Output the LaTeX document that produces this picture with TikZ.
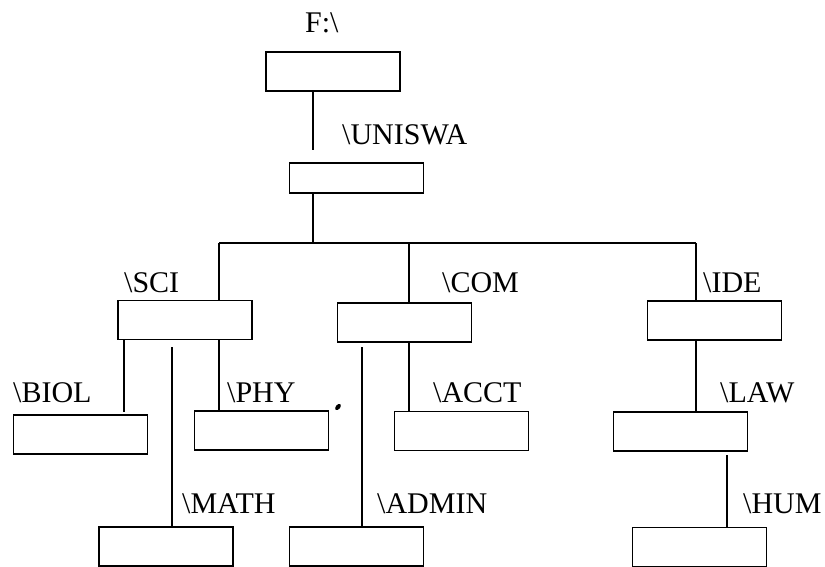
\documentclass[tikz,border=0pt]{standalone}
\usepackage{fontspec}
\setmainfont{Liberation Serif}
\tikzset{
  dirbox/.style={draw, line width=1.6pt, minimum width=134pt, minimum height=39pt, inner sep=0pt},
  dirlabel/.style={anchor=base west, inner sep=0pt, font=\fontsize{30}{35}\selectfont},
  link/.style={line width=1.3pt}
}
\begin{document}
\begin{tikzpicture}[x=1pt,y=-1pt]
\useasboundingbox (0,0) rectangle (825,567);
% directory boxes
\node [dirbox] (root) at (333,71.5) {};
\node [dirbox,minimum height=30pt] (uniswa) at (356.5,178) {};
\node [dirbox] (sci) at (185,320) {};
\node [dirbox] (com) at (404.5,322.5) {};
\node [dirbox] (ide) at (714.5,320.5) {};
\node [dirbox] (biol) at (80.5,434.5) {};
\node [dirbox] (phy) at (261.5,430.5) {};
\node [dirbox] (acct) at (461.5,431) {};
\node [dirbox] (law) at (680.5,431.5) {};
\node [dirbox] (math) at (166,546.5) {};
\node [dirbox] (admin) at (356.5,546.5) {};
\node [dirbox] (hum) at (699.5,547) {};
% names
\node [dirlabel] (lroot) at (305,33) {F:\textbackslash};
\node [dirlabel] (luniswa) at (342,145) {\textbackslash UNISWA};
\node [dirlabel] (lsci) at (124,292) {\textbackslash SCI};
\node [dirlabel] (lcom) at (442,292) {\textbackslash COM};
\node [dirlabel] (lide) at (703,292) {\textbackslash IDE};
\node [dirlabel] (lbiol) at (13,402) {\textbackslash BIOL};
\node [dirlabel] (lphy) at (227,402) {\textbackslash PHY};
\node [dirlabel] (lacct) at (433,402) {\textbackslash ACCT};
\node [dirlabel] (llaw) at (720,402) {\textbackslash LAW};
\node [dirlabel] (lmath) at (182,513) {\textbackslash MATH};
\node [dirlabel] (ladmin) at (377,513) {\textbackslash ADMIN};
\node [dirlabel] (lhum) at (743,513) {\textbackslash HUM};
% branch points
\coordinate (uniTop) at (313,150);
\coordinate (busU) at (313,243);
\coordinate (busL) at (219,243);
\coordinate (busC) at (409,243);
\coordinate (busR) at (696,243);
\coordinate (biolTop) at (124,412);
\coordinate (mathTop) at (172,347);
\coordinate (adminTop) at (362,347);
\coordinate (humTop) at (727,455);
% tree lines
\draw [link] (root.south -| uniTop) -- (uniTop);
\draw [link] (uniswa.south -| busU) -- (busU);
\draw [link] (busL) -- (busR);
\draw [link] (busL) -- (busL |- sci.north);
\draw [link] (busC) -- (busC |- com.north);
\draw [link] (busR) -- (busR |- ide.north);
\draw [link] (sci.south -| biolTop) -- (biolTop);
\draw [link] (sci.south -| busL) -- (phy.north -| busL);
\draw [link] (mathTop) -- (math.north -| mathTop);
\draw [link] (adminTop) -- (admin.north -| adminTop);
\draw [link] (com.south -| busC) -- (acct.north -| busC);
\draw [link] (ide.south -| busR) -- (law.north -| busR);
\draw [link] (humTop) -- (hum.north -| humTop);
% speck
\fill [rotate around={-40:(338,407)}] (338,407) ellipse [x radius=2.2, y radius=3.6];
\end{tikzpicture}
\end{document}
